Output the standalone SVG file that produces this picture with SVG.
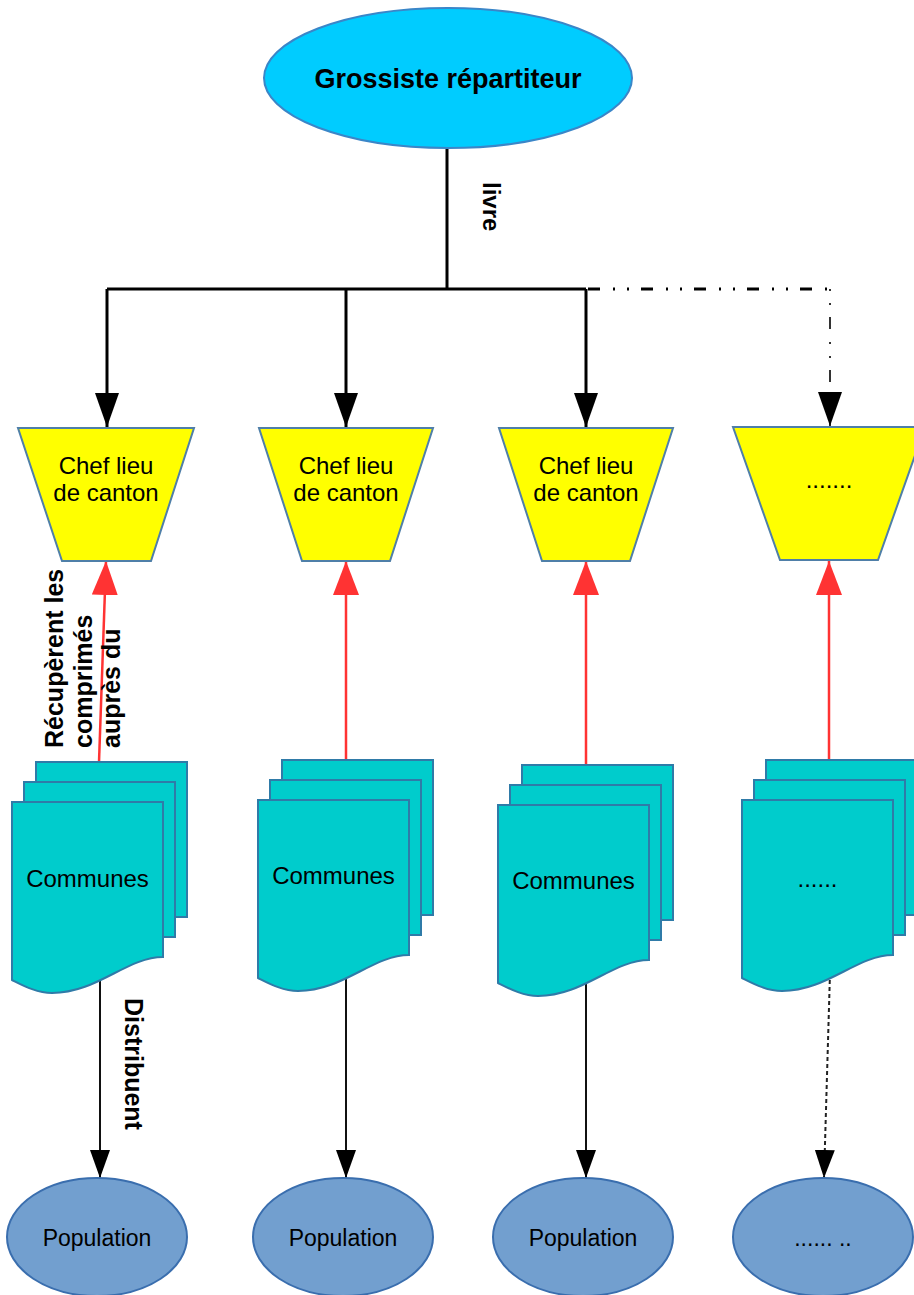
<svg xmlns="http://www.w3.org/2000/svg" xmlns:xlink="http://www.w3.org/1999/xlink" width="914" height="1295" viewBox="0 0 914 1295">
<style>
.t{font-family:"Liberation Sans",Arial,sans-serif;fill:#000}
.b{font-weight:bold}
.trap{fill:#FFFF00;stroke:#4F7FA8;stroke-width:2}
.doc{fill:#00CCCC;stroke:#2F7BA8;stroke-width:2}
.pop{fill:#729FCF;stroke:#3A6EAE;stroke-width:2}
.blk{fill:none;stroke:#000;stroke-width:3}
.red{fill:none;stroke:#FF3333;stroke-width:2.5}
.dn{fill:none;stroke:#111;stroke-width:2}
</style>
<defs>
<marker id="ab" markerUnits="userSpaceOnUse" viewBox="0 0 34 24" markerWidth="34" markerHeight="24" refX="34" refY="12" orient="auto"><path d="M0,0 L34,12 L0,24 Z" fill="#000"/></marker>
<marker id="ar" markerUnits="userSpaceOnUse" viewBox="0 0 34 26" markerWidth="34" markerHeight="26" refX="34" refY="13" orient="auto"><path d="M0,0 L34,13 L0,26 Z" fill="#FF3333"/></marker>
<marker id="as" markerUnits="userSpaceOnUse" viewBox="0 0 28 20" markerWidth="28" markerHeight="20" refX="28" refY="10" orient="auto"><path d="M0,0 L28,10 L0,20 Z" fill="#000"/></marker>
<g id="stack">
<rect class="doc" x="24" y="-40" width="151" height="155"/>
<rect class="doc" x="12" y="-20" width="151" height="155"/>
<path class="doc" d="M0,0 H151 V155 C115,155 85,191 40,191 C25,191 12,184 0,178 Z"/>
</g>
</defs>

<g id="connectors">
<path class="blk" d="M447,148 V289 M107,289 H586"/>
<path class="blk" d="M107,289 V427" marker-end="url(#ab)"/>
<path class="blk" d="M346,289 V427" marker-end="url(#ab)"/>
<path class="blk" d="M586,289 V427" marker-end="url(#ab)"/>
<path d="M588,289 H829" fill="none" stroke="#000" stroke-width="3" stroke-dasharray="12 13 2 12 2 12"/>
<path d="M830,289 V426" fill="none" stroke="#333" stroke-width="2" stroke-dasharray="2 12 2 12 12 13" marker-end="url(#ab)"/>
<path class="red" d="M99,762 L106,561" marker-end="url(#ar)"/>
<path class="red" d="M346,760 V561" marker-end="url(#ar)"/>
<path class="red" d="M586,766 V561" marker-end="url(#ar)"/>
<path class="red" d="M829,762 V561" marker-end="url(#ar)"/>
<path class="dn" d="M100,977 V1178" marker-end="url(#as)"/>
<path class="dn" d="M346,973 V1178" marker-end="url(#as)"/>
<path class="dn" d="M586,980 V1178" marker-end="url(#as)"/>
<path d="M830,973 L824,1178" fill="none" stroke="#222" stroke-width="2" stroke-dasharray="4 3" marker-end="url(#as)"/>
<text class="t b" font-size="24" transform="translate(483,182) rotate(90)">livre</text>
<text class="t b" font-size="25" transform="translate(63,748) rotate(-90)"><tspan x="0" y="0">Récupèrent les</tspan><tspan x="0" dy="29">comprimés</tspan><tspan x="0" dy="28">auprès du</tspan></text>
<text class="t b" font-size="25" transform="translate(125,998) rotate(90)">Distribuent</text>
</g>

<g id="grossiste">
<ellipse cx="448" cy="78" rx="184" ry="70" fill="#00CCFF" stroke="#3A86C8" stroke-width="2"/>
<text class="t b" font-size="27" x="448" y="88" text-anchor="middle">Grossiste répartiteur</text>
</g>

<g id="chef1">
<polygon class="trap" points="18,428 194,428 151,561 62,561"/>
<text class="t" font-size="24" x="106" y="474" text-anchor="middle">Chef lieu</text>
<text class="t" font-size="24" x="106" y="501" text-anchor="middle">de canton</text>
</g>
<g id="chef2">
<polygon class="trap" points="259,428 433,428 390,561 302,561"/>
<text class="t" font-size="24" x="346" y="474" text-anchor="middle">Chef lieu</text>
<text class="t" font-size="24" x="346" y="501" text-anchor="middle">de canton</text>
</g>
<g id="chef3">
<polygon class="trap" points="499,428 673,428 630,561 542,561"/>
<text class="t" font-size="24" x="586" y="474" text-anchor="middle">Chef lieu</text>
<text class="t" font-size="24" x="586" y="501" text-anchor="middle">de canton</text>
</g>
<g id="chef4">
<polygon class="trap" points="733,427 925,427 878,560 780,560"/>
<text class="t" font-size="24" x="829" y="488" text-anchor="middle">.......</text>
</g>

<g id="communes1">
<use xlink:href="#stack" href="#stack" transform="translate(12,802)"/>
<text class="t" font-size="24" x="87.5" y="887" text-anchor="middle">Communes</text>
</g>
<g id="communes2">
<use xlink:href="#stack" href="#stack" transform="translate(258,800)"/>
<text class="t" font-size="24" x="333.5" y="884" text-anchor="middle">Communes</text>
</g>
<g id="communes3">
<use xlink:href="#stack" href="#stack" transform="translate(498,805)"/>
<text class="t" font-size="24" x="573.5" y="889" text-anchor="middle">Communes</text>
</g>
<g id="communes4">
<use xlink:href="#stack" href="#stack" transform="translate(742,800)"/>
<text class="t" font-size="24" x="817.5" y="887" text-anchor="middle">......</text>
</g>

<g id="population1">
<ellipse class="pop" cx="97" cy="1237" rx="90" ry="59"/>
<text class="t" font-size="23" x="97" y="1246" text-anchor="middle">Population</text>
</g>
<g id="population2">
<ellipse class="pop" cx="343" cy="1237" rx="90" ry="59"/>
<text class="t" font-size="23" x="343" y="1246" text-anchor="middle">Population</text>
</g>
<g id="population3">
<ellipse class="pop" cx="583" cy="1237" rx="90" ry="59"/>
<text class="t" font-size="23" x="583" y="1246" text-anchor="middle">Population</text>
</g>
<g id="population4">
<ellipse class="pop" cx="823" cy="1237" rx="90" ry="59"/>
<text class="t" font-size="23" x="823" y="1246" text-anchor="middle">...... ..</text>
</g>
</svg>
